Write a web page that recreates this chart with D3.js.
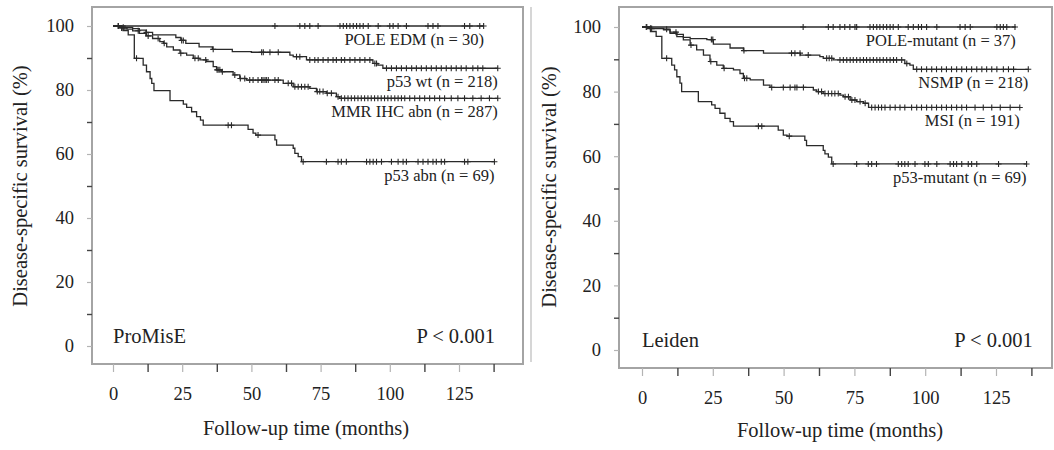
<!DOCTYPE html>
<html>
<head>
<meta charset="utf-8">
<script src="https://cdn.jsdelivr.net/npm/d3@7"></script>
<style>
body { margin: 0; background: #fff; }
svg { display: block; font-family: "Liberation Serif", "Times New Roman", serif; }
</style>
</head>
<body>
<svg id="drawing_region"></svg>
<script>
// axis ticks
const xTicks = [0, 25, 50, 75, 100, 125];
const xMinorTicks = [12.5, 37.5, 62.5, 87.5, 112.5, 137.5];
const yTicks = [0, 20, 40, 60, 80, 100];
const yMinorTicks = [10, 30, 50, 70, 90];

// ProMisE cohort : [month, survival %] steps, censor months, last follow-up
const poleL_label = "POLE EDM (n = 30)";
const poleL_steps = [[0, 100]];
const poleL_censor = [58.5, 67.5, 69.3, 71.1, 74.1, 82, 83.2, 84.4, 85.6, 86.8, 88, 89.2, 90.4, 92.2, 95.8, 100, 101.2, 103, 106, 113.8, 115.6, 117.4, 127, 128.9, 132.5, 133.9];
const poleL_end = 134;

const wtL_label = "p53 wt (n = 218)";
const wtL_steps = [[0, 100], [2, 99.6], [7.1, 99.2], [9.5, 98.7], [11.9, 98], [14.3, 97.2], [22.7, 96.4], [24.5, 95.5], [26.3, 94.6], [31.1, 93.5], [35.9, 92.7], [43.1, 92], [50, 91.8], [63.9, 90.9], [65.1, 90.4], [69.9, 89.4], [93.9, 88.3], [95.7, 87.8], [97.5, 86.8]];
const wtL_censor = [1.9, 3.7, 12.1, 24.8, 25.4, 36.2, 54.3, 53.7, 56.7, 59.7, 66.3, 67.5, 71.1, 72.9, 74.1, 75.9, 77.7, 79.5, 80.7, 82.5, 83.7, 85.6, 87.4, 89.2, 91, 92.8, 94.6, 95.2, 98.8, 100.6, 102.4, 104.2, 106, 107.9, 109.6, 111.4, 113.2, 115, 116.8, 118.6, 120.4, 122.2, 124, 125.8, 127.6, 130, 131.8, 133.6, 139];
const wtL_end = 139;

const mmrL_label = "MMR IHC abn (n = 287)";
const mmrL_steps = [[0, 100], [2.5, 99.4], [5, 99], [7.1, 98.5], [9.5, 97.7], [11.9, 96.9], [14.3, 96.1], [16.9, 95.1], [18.2, 94.6], [19.4, 93.5], [21.8, 92.5], [24.2, 91.5], [26.6, 90.9], [29, 89.9], [31.4, 89.4], [33.8, 88.9], [36.2, 87.3], [37.4, 86.3], [39.2, 85.7], [43.4, 84.7], [45.8, 83.6], [48.2, 83.1], [61.5, 82.1], [65.1, 81], [71.1, 80.5], [73.5, 79.5], [77.1, 79], [80.7, 77.9], [81.9, 77.4]];
const mmrL_censor = [1.9, 3.1, 4.3, 9.1, 12.7, 16.3, 18.5, 24.5, 29.6, 30.8, 33.5, 37.6, 38, 38.6, 39.5, 44, 46, 47.6, 49.4, 50.6, 52.4, 54.2, 55.4, 53.7, 54.9, 56.1, 58.5, 59.7, 63.3, 64.5, 65.7, 66.9, 68.1, 69.3, 70.5, 73.8, 74.7, 75.9, 77.4, 78.9, 81.3, 82.5, 83.7, 84.9, 86.1, 87.3, 88.5, 89.7, 90.9, 92.1, 93.3, 94.5, 95.7, 96.9, 98.1, 99.3, 100.5, 101.8, 103, 104.2, 105.4, 107.2, 109, 110.8, 112.6, 114.4, 116.2, 118, 119.8, 122.2, 124.6, 127, 130, 133, 136, 139];
const mmrL_end = 139;

const abnL_label = "p53 abn (n = 69)";
const abnL_steps = [[0, 100], [3.6, 98.6], [5.5, 97.2], [7.7, 89.9], [10.9, 87.8], [12.1, 85.7], [13.4, 83.6], [14, 82.1], [14.8, 79.8], [20.6, 76.7], [25.4, 75.6], [26.6, 74.6], [28.4, 73.2], [30.2, 71.7], [31.6, 70.6], [32.6, 69], [48.8, 67.7], [50.6, 66.5], [51.6, 65.9], [58.5, 64.4], [59.1, 62.8], [65.1, 61.8], [65.7, 60.2], [66.9, 59.2], [68.1, 57.6]];
const abnL_censor = [8.5, 41.6, 42.8, 52.4, 68.7, 77.1, 81.3, 82.5, 84.3, 91.6, 92.8, 94, 95.2, 97, 100.6, 103, 104.8, 106, 110.2, 112, 113.8, 115.6, 116.8, 118.6, 119.8, 127, 128.2, 137.8];
const abnL_end = 137.8;

// Leiden cohort
const poleR_label = "POLE-mutant (n = 37)";
const poleR_steps = [[0, 100]];
const poleR_censor = [56.9, 65.8, 67.5, 69.9, 71.6, 73.4, 75.2, 75.8, 80.5, 81.7, 82.9, 84, 85.2, 86.4, 87.6, 88.7, 90.5, 94, 95.8, 97.6, 98.7, 100.5, 104.1, 112.3, 114.1, 115.9, 125.3, 126.5, 127.6, 128.8, 131.7];
const poleR_end = 132;

const nsmpR_label = "NSMP (n = 218)";
const nsmpR_steps = [[0, 100], [2, 99.6], [7.6, 99.1], [9.9, 98.4], [12.3, 97.7], [14.6, 96.8], [17, 96.4], [22.9, 96.1], [25.2, 94.7], [31.1, 93.5], [35.8, 92.7], [42.9, 91.9], [55.9, 91.3], [62.8, 90.8], [64, 90.3], [67.5, 89.8], [92.8, 88.7], [94.6, 88.2], [95.8, 86.9]];
const nsmpR_censor = [1.5, 3, 12, 24.5, 25, 36, 54, 52.8, 55.8, 58.7, 65.2, 66.1, 67, 69.9, 71.1, 72.3, 73.5, 74.6, 75.8, 77, 78.2, 79.3, 80.5, 81.7, 82.9, 84, 85.2, 86.4, 87.6, 88.8, 89.9, 91.7, 93.5, 97, 98.7, 100.5, 102.3, 104, 105.8, 107.5, 109.3, 111.1, 112.9, 114.6, 116.4, 118.2, 120, 121.7, 123.5, 125.3, 127.6, 129.4, 131.2, 136.4];
const nsmpR_end = 136.4;

const msiR_label = "MSI (n = 191)";
const msiR_steps = [[0, 100], [2.5, 99.5], [7.6, 99.3], [9.9, 98], [12.3, 97], [14.6, 96], [17, 94.4], [19.3, 92.9], [21.7, 91.3], [24, 89.3], [26.4, 88.2], [28.7, 87.2], [32.3, 86.7], [34.6, 85.6], [35.8, 84.1], [38.2, 83.6], [42.9, 82], [45.2, 81.3], [60.5, 80.5], [61.7, 80], [64, 79.4], [69.9, 78.9], [71.1, 78.4], [73.5, 77.4], [75.8, 76.9], [78.2, 76.4], [80, 75.1]];
const msiR_censor = [1.7, 3.4, 8.7, 17.3, 24.3, 29, 36.2, 37, 45.8, 49.9, 52.3, 54.7, 54, 57, 62.3, 63.4, 64.6, 65.8, 67, 68.1, 69.3, 71.7, 72.9, 74.1, 75.2, 77, 78.8, 81.1, 82.3, 83.5, 84.6, 85.8, 87.6, 89.4, 91.1, 92.8, 95.2, 97, 98.7, 100.5, 102.3, 104, 105.8, 107.5, 109.3, 111.1, 112.9, 114.6, 117.6, 120.5, 123.5, 126.5, 130, 133.4];
const msiR_end = 133.4;

const mutR_label = "p53-mutant (n = 69)";
const mutR_steps = [[0, 100], [3, 98.6], [5, 97.1], [7, 90.3], [10.5, 88.2], [11.5, 86.7], [12.3, 84.6], [13.4, 82.6], [14, 80], [19.9, 76.9], [24.6, 75.9], [25.8, 74.8], [27.5, 73.3], [29.3, 71.7], [31.1, 70.7], [32.3, 69.3], [48.1, 68.1], [49.9, 66.5], [51.2, 66.2], [57.5, 64.9], [58.1, 63.3], [64, 61.8], [64.6, 60.7], [65.8, 59.7], [67, 57.6]];
const mutR_censor = [8.7, 41.1, 42.3, 52, 67.5, 75.8, 79.9, 81.1, 82.8, 90.5, 91.7, 92.8, 94, 96.4, 99.9, 101.1, 104.1, 108.8, 110, 111.1, 112.9, 115.2, 116.4, 118.2, 125.9, 135.8];
const mutR_end = 135.8;

const cohortNames = ["ProMisE", "Leiden"];
const pValues = ["P < 0.001", "P < 0.001"];

const curvesLeft = [
    {label: poleL_label, steps: poleL_steps, censor: poleL_censor, end: poleL_end},
    {label: wtL_label, steps: wtL_steps, censor: wtL_censor, end: wtL_end},
    {label: mmrL_label, steps: mmrL_steps, censor: mmrL_censor, end: mmrL_end},
    {label: abnL_label, steps: abnL_steps, censor: abnL_censor, end: abnL_end}
];
const curvesRight = [
    {label: poleR_label, steps: poleR_steps, censor: poleR_censor, end: poleR_end},
    {label: nsmpR_label, steps: nsmpR_steps, censor: nsmpR_censor, end: nsmpR_end},
    {label: msiR_label, steps: msiR_steps, censor: msiR_censor, end: msiR_end},
    {label: mutR_label, steps: mutR_steps, censor: mutR_censor, end: mutR_end}
];

const svg = d3.select('#drawing_region')
    .attr('width', 1054)
    .attr('height', 450);

class KMPlot {

    constructor( config, curves ) {
        this.config = config;
        this.curves = curves;
        this.init();
    }

    init() {
        let self = this;
        let c = self.config;
        self.g = svg.append('g');
        self.xscale = d3.scaleLinear().domain([0, 125]).range(c.xrange);
        self.yscale = d3.scaleLinear().domain([0, 100]).range(c.yrange);
        self.line = d3.line()
            .x(d => self.xscale(d[0]))
            .y(d => self.yscale(d[1]))
            .curve(d3.curveStepAfter);
    }

    survAt( steps, t ) {
        let s = steps[0][1];
        steps.forEach( d => { if (d[0] <= t) s = d[1]; });
        return s;
    }

    render() {
        let self = this;
        let c = self.config;
        let f = c.frame;

        self.g.append('rect')
            .attr('x', f.left).attr('y', f.top)
            .attr('width', f.right - f.left).attr('height', f.bottom - f.top)
            .attr('fill', 'none').attr('stroke', '#a4a4a4').attr('stroke-width', 2);

        // x axis
        const xMajor = self.g.append('g')
            .attr('transform', `translate(0, ${f.bottom})`)
            .call(d3.axisBottom(self.xscale).tickValues(xTicks).tickSize(8).tickPadding(15));
        const xMinor = self.g.append('g')
            .attr('transform', `translate(0, ${f.bottom})`)
            .call(d3.axisBottom(self.xscale).tickValues(xMinorTicks).tickSize(8).tickFormat(''));
        // y axis
        const yMajor = self.g.append('g')
            .attr('transform', `translate(${f.left}, 0)`)
            .call(d3.axisLeft(self.yscale).tickValues(yTicks).tickSize(5).tickPadding(13));
        const yMinor = self.g.append('g')
            .attr('transform', `translate(${f.left}, 0)`)
            .call(d3.axisLeft(self.yscale).tickValues(yMinorTicks).tickSize(5).tickFormat(''));

        [xMajor, xMinor, yMajor, yMinor].forEach( a => a.select('.domain').remove() );
        [xMajor, yMajor].forEach( a => {
            a.selectAll('line').attr('stroke', '#b4b4b4').attr('stroke-width', 1.2);
            a.selectAll('text')
                .attr('fill', '#222')
                .style('font-size', '18.5px')
                .style('font-family', '"Liberation Serif", serif');
        });
        [xMinor, yMinor].forEach( a => a.selectAll('line').attr('stroke', '#444').attr('stroke-width', 1.4) );

        // axis titles
        self.g.append('text')
            .attr('x', c.xTitle[0]).attr('y', c.xTitle[1])
            .attr('text-anchor', 'middle')
            .attr('fill', '#222')
            .style('font-size', '20.5px')
            .text('Follow-up time (months)');
        self.g.append('text')
            .attr('transform', `translate(${c.yTitle[0]}, ${c.yTitle[1]}) rotate(-90)`)
            .attr('text-anchor', 'middle')
            .attr('fill', '#222')
            .style('font-size', '20.5px')
            .text('Disease-specific survival (%)');

        // curves
        self.curves.forEach( d => {
            const last = d.steps[d.steps.length - 1][1];
            const pts = d.steps.concat([[d.end, last]]);
            self.g.append('path')
                .attr('d', self.line(pts))
                .attr('fill', 'none')
                .attr('stroke', '#2a2a2a')
                .attr('stroke-width', 1.3);

            self.g.append('g').selectAll('path')
                .data(d.censor)
                .enter()
                .append('path')
                .attr('d', t => {
                    const cx = self.xscale(t), cy = self.yscale(self.survAt(d.steps, t));
                    return `M${cx - 3},${cy}H${cx + 3}M${cx},${cy - 3}V${cy + 3}`;
                })
                .attr('stroke', '#2a2a2a')
                .attr('stroke-width', 1.1);

            self.g.append('text')
                .attr('x', self.xscale(d.end))
                .attr('y', self.yscale(last) + 19)
                .attr('text-anchor', 'end')
                .attr('fill', '#222')
                .style('font-size', '16.5px')
                .text(d.label);
        });

        // cohort name and p value
        self.g.append('text')
            .attr('x', self.xscale(0)).attr('y', self.yscale(0) - 3)
            .attr('fill', '#222')
            .style('font-size', '20.5px')
            .text(c.name);
        self.g.append('text')
            .attr('x', self.xscale(138)).attr('y', self.yscale(0) - 3)
            .attr('text-anchor', 'end')
            .attr('fill', '#222')
            .style('font-size', '20.5px')
            .text(c.pvalue);
    }
}

// thin separator left by the original figure
svg.append('line')
    .attr('x1', 531).attr('x2', 531).attr('y1', 7).attr('y2', 362)
    .attr('stroke', '#c8c8c8').attr('stroke-width', 1.5);

const leftPlot = new KMPlot({
    frame: {left: 92, top: 7, right: 523, bottom: 364},
    xrange: [113, 459], yrange: [346, 26],
    xTitle: [306, 435], yTitle: [27, 186],
    name: cohortNames[0], pvalue: pValues[0]
}, curvesLeft);
leftPlot.render();

const rightPlot = new KMPlot({
    frame: {left: 619, top: 7, right: 1052, bottom: 368},
    xrange: [642, 996], yrange: [350, 27],
    xTitle: [840, 437], yTitle: [556, 187],
    name: cohortNames[1], pvalue: pValues[1]
}, curvesRight);
rightPlot.render();
</script>
</body>
</html>
